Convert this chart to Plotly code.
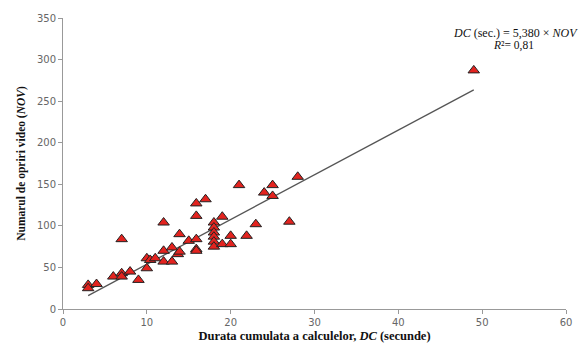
import plotly.graph_objects as go

dc = [3, 3, 4, 6, 7, 7, 8, 9, 7, 10, 10, 10.4, 11, 12, 12, 12, 13, 13, 13.7, 13.9, 13.9,
      15, 15.9, 15.9, 15.9, 15.9, 15.9, 17, 18, 18, 18, 18, 18, 18, 19, 19, 20, 20, 21,
      21.9, 23, 24, 25, 25, 27, 28, 49]
nov = [29, 25, 30, 39, 43, 39, 45, 35, 84, 61, 49, 59, 61, 57, 70, 104, 74, 57, 66, 90, 69,
       82, 84, 72, 70, 112, 127, 132, 104, 98, 92, 87, 81, 75, 111, 78, 88, 78, 149,
       88, 102, 140, 149, 136, 105, 159, 287]
slope = 5.38
fit_x = [3, 49]
fit_y = [slope * v for v in fit_x]

fig = go.Figure()
fig.add_trace(go.Scatter(x=fit_x, y=fit_y, mode="lines",
                         line=dict(color="#555555", width=1.3), hoverinfo="skip"))
fig.add_trace(go.Scatter(x=dc, y=nov, mode="markers",
                         marker=dict(symbol="triangle-up", size=10, color="#e3231f",
                                     line=dict(color="#222222", width=1))))

tickfont = dict(family="DejaVu Sans", size=10, color="#666666")
fig.update_layout(
    width=584, height=353,
    margin=dict(l=63, r=17, t=17, b=40),
    paper_bgcolor="white", plot_bgcolor="white",
    showlegend=False,
    xaxis=dict(range=[0, 60], tickvals=[0, 10, 20, 30, 40, 50, 60], showgrid=False,
               zeroline=False, showline=True, linecolor="#999999", linewidth=1,
               ticks="outside", ticklen=4, tickcolor="#999999", tickfont=tickfont,
               title=dict(text="<b>Durata cumulata a calculelor, <i>DC</i> (secunde)</b>",
                          font=dict(family="Liberation Serif", size=12.5, color="#111111"),
                          standoff=4)),
    yaxis=dict(range=[0, 350], tickvals=[0, 50, 100, 150, 200, 250, 300, 350], showgrid=False,
               zeroline=False, showline=True, linecolor="#999999", linewidth=1,
               ticks="outside", ticklen=4, tickcolor="#999999", tickfont=tickfont,
               title=dict(text="<b>Numarul de opriri video (<i>NOV</i>)</b>",
                          font=dict(family="Liberation Serif", size=11.5, color="#111111"),
                          standoff=8)),
    annotations=[
        dict(x=0.772, y=0.95, xref="paper", yref="paper", xanchor="left", yanchor="middle",
             text="<i>DC</i> (sec.) = 5,380 × <i>NOV</i>", showarrow=False,
             font=dict(family="Liberation Serif", size=12, color="#111111")),
        dict(x=0.895, y=0.905, xref="paper", yref="paper", xanchor="center", yanchor="middle",
             text="<i>R</i>²= 0,81", showarrow=False,
             font=dict(family="Liberation Serif", size=11.5, color="#111111")),
    ],
)
fig.write_html("out.html")
